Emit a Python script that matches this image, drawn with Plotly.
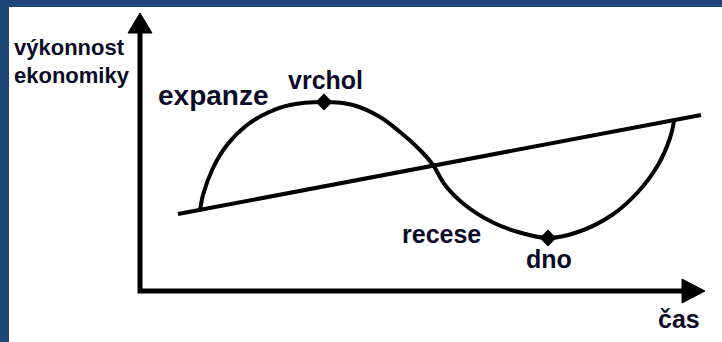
"""Business cycle sketch: performance of the economy over time."""

import plotly.graph_objects as go

W, H = 722, 342
FONT = "Liberation Sans, Arial, sans-serif"
INK = "#0c0c28"
FRAME = "#1e4679"

# ── Data (time units vs. economic performance units) ─────────────────
trend_t = [38, 561]
trend_v = [77, 176]

cycle_t = [60, 63, 73, 87, 107, 127, 150, 184, 213, 240, 260, 280, 293,
           305, 325, 352, 378, 408, 438, 472, 498, 518, 530, 534]
cycle_v = [80, 96, 123, 146, 166, 178, 186, 189, 186, 174, 159, 141, 126,
           106, 86, 69, 59, 53, 59, 76, 99, 126, 153, 170]

turn_t = [184, 408]          # vrchol, dno
turn_v = [189, 53]

phase_labels = ["expanze", "vrchol", "recese", "dno"]
phase_t = [73, 185, 301, 409]
phase_v = [196, 211, 57, 32]

# ── Figure ───────────────────────────────────────────────────────────
fig = go.Figure()

fig.add_trace(go.Scatter(
    x=trend_t, y=trend_v, mode="lines",
    line=dict(color="black", width=4),
    hoverinfo="skip",
))
fig.add_trace(go.Scatter(
    x=cycle_t, y=cycle_v, mode="lines",
    line=dict(color="black", width=4, shape="spline", smoothing=1.0),
    hoverinfo="skip",
))
fig.add_trace(go.Scatter(
    x=turn_t, y=turn_v, mode="markers",
    marker=dict(symbol="diamond", size=13, color="black"),
    hoverinfo="skip",
))

# axes drawn as an L with arrow heads
AX_W = 5
fig.add_shape(type="path", path="M 0,258 L 0,0 L 544,0",
              line=dict(color="black", width=AX_W), layer="above")
fig.add_shape(type="path", path="M -12,258 L 12,258 L 0,278 Z",
              line=dict(color="black", width=1), fillcolor="black")
fig.add_shape(type="path", path="M 542,-12 L 542,12 L 565,0 Z",
              line=dict(color="black", width=1), fillcolor="black")

# axis titles
fig.add_annotation(x=-128, y=244, text="<b>výkonnost</b>", showarrow=False,
                   xanchor="left", yanchor="middle",
                   font=dict(family=FONT, size=22, color=INK))
fig.add_annotation(x=-128, y=216, text="<b>ekonomiky</b>", showarrow=False,
                   xanchor="left", yanchor="middle",
                   font=dict(family=FONT, size=22, color=INK))
fig.add_annotation(x=539, y=-28, text="<b>čas</b>", showarrow=False,
                   xanchor="center", yanchor="middle",
                   font=dict(family=FONT, size=25, color=INK))

# phase labels
for lab, t, v in zip(phase_labels, phase_t, phase_v):
    size = 28 if lab == "expanze" else 25
    fig.add_annotation(x=t, y=v, text=f"<b>{lab}</b>", showarrow=False,
                       xanchor="center", yanchor="middle",
                       font=dict(family=FONT, size=size, color=INK))

fig.update_layout(
    width=W, height=H,
    margin=dict(l=9, r=0, t=7, b=0),
    paper_bgcolor=FRAME,
    plot_bgcolor="white",
    showlegend=False,
    xaxis=dict(visible=False, range=[-131, 582], fixedrange=True),
    yaxis=dict(visible=False, range=[-51, 284], fixedrange=True),
)

fig.write_html("out.html", config={"displayModeBar": False},
               post_script="document.body.style.margin='0';")
